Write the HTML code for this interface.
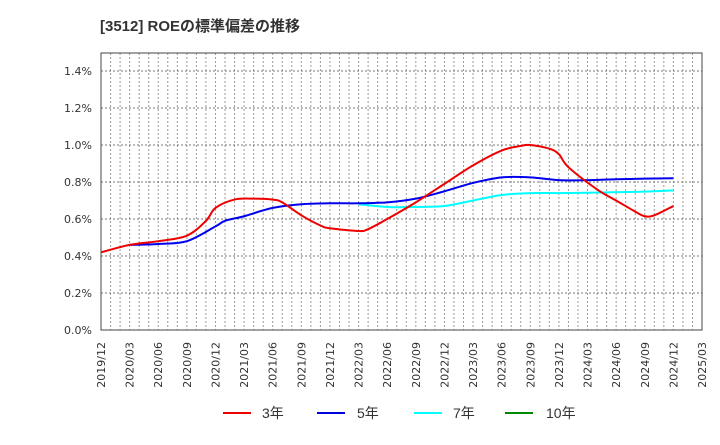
<!DOCTYPE html>
<html><head><meta charset="utf-8"><style>
body{margin:0;background:#fff;font-family:"Liberation Sans","Noto Sans CJK JP",sans-serif;}
</style></head><body>
<svg width="720" height="440" xmlns="http://www.w3.org/2000/svg" font-family="Liberation Sans, Noto Sans CJK JP, sans-serif">
<text x="100" y="31" font-size="15" font-weight="bold" fill="#333">[3512]  ROEの標準偏差の推移</text>
<g id="grid"></g><g id="axes"></g><g id="series"></g>
<g font-size="14" fill="#333">
<line x1="223" y1="413" x2="251" y2="413" stroke="#e00" stroke-width="2"/><text x="262" y="418">3年</text>
<line x1="317" y1="413" x2="345" y2="413" stroke="#00d" stroke-width="2"/><text x="357" y="418">5年</text>
<line x1="414" y1="413" x2="442" y2="413" stroke="#0ff" stroke-width="2"/><text x="453" y="418">7年</text>
<line x1="505" y1="413" x2="533" y2="413" stroke="#080" stroke-width="2"/><text x="546" y="418">10年</text>
</g>
</svg>
<script>
const xLabels=["2019/12","2020/03","2020/06","2020/09","2020/12","2021/03","2021/06","2021/09","2021/12","2022/03","2022/06","2022/09","2022/12","2023/03","2023/06","2023/09","2023/12","2024/03","2024/06","2024/09","2024/12","2025/03"];
const yTicks=[0,0.2,0.4,0.6,0.8,1.0,1.2,1.4];
const red3Months=[0,3,6,9,11,12,14,16,18,19,21,23,24,27,28,30,33,36,39,42,44,45,47,48,49,52,54,56,57,58,60];
const red3Values=[0.42,0.46,0.48,0.51,0.59,0.66,0.705,0.71,0.705,0.69,0.62,0.565,0.55,0.535,0.545,0.60,0.69,0.79,0.89,0.97,0.995,1.0,0.98,0.95,0.88,0.76,0.70,0.64,0.615,0.62,0.67];
const blue5Months=[3,6,9,12,13,15,18,21,24,27,30,33,36,39,42,45,48,51,54,57,60];
const blue5Values=[0.46,0.465,0.48,0.56,0.59,0.615,0.66,0.68,0.685,0.685,0.69,0.71,0.75,0.795,0.825,0.825,0.81,0.81,0.815,0.818,0.82];
const cyan7Months=[27,30,33,36,39,42,45,48,51,54,57,60];
const cyan7Values=[0.68,0.665,0.665,0.67,0.70,0.73,0.74,0.74,0.742,0.745,0.748,0.755];
const NS="http://www.w3.org/2000/svg";
const L=101,R=702,T=53,B=330,yMax=1.4,yTop=71;
const xs=m=>L+m*(R-L)/63;
const ys=v=>B-v*(B-yTop)/yMax;
function mk(tag,attrs,parent){const e=document.createElementNS(NS,tag);for(const k in attrs)e.setAttribute(k,attrs[k]);parent.appendChild(e);return e;}
const grid=document.getElementById('grid'),axes=document.getElementById('axes'),ser=document.getElementById('series');
for(let m=1;m<63;m++){const l=mk('line',{x1:xs(m),x2:xs(m),y1:T,y2:B,stroke:'#999','stroke-dasharray':'2,2','stroke-width':1},grid);

}
yTicks.forEach(v=>{if(v>0){const l=mk('line',{x1:L,x2:R,y1:ys(v),y2:ys(v),stroke:'#777','stroke-dasharray':'2,2','stroke-width':1},grid);

}
const t=mk('text',{x:92,y:ys(v)+4,'text-anchor':'end','font-size':11,fill:'#333','font-family':'DejaVu Sans, sans-serif'},axes);t.textContent=v.toFixed(1)+'%';

});
xLabels.forEach((s,i)=>{const x=xs(i*3);const t=mk('text',{x:0,y:0,transform:`translate(${x+4},${B+12}) rotate(-90)`,'text-anchor':'end','font-size':11,fill:'#333','font-family':'DejaVu Sans, sans-serif'},axes);t.textContent=s;

});
const fr=mk('rect',{x:L,y:T,width:R-L,height:B-T,fill:'none',stroke:'#444','stroke-width':1},axes);


function path(ms,vs){const p=ms.map((m,i)=>[xs(m),ys(vs[i])]);let d=`M${p[0][0]},${p[0][1]}`;
for(let i=0;i<p.length-1;i++){const p0=p[i-1]||p[i],p1=p[i],p2=p[i+1],p3=p[i+2]||p2;
d+=`C${p1[0]+(p2[0]-p0[0])/6},${p1[1]+(p2[1]-p0[1])/6} ${p2[0]-(p3[0]-p1[0])/6},${p2[1]-(p3[1]-p1[1])/6} ${p2[0]},${p2[1]}`;}return d;}
[[cyan7Months,cyan7Values,'#0ff','series-7y'],[blue5Months,blue5Values,'#00e','series-5y'],[red3Months,red3Values,'#e00','series-3y']].forEach(([m,v,c,n])=>{
const p=mk('path',{d:path(m,v),fill:'none',stroke:c,'stroke-width':2},ser);

});
</script>
</body></html>
